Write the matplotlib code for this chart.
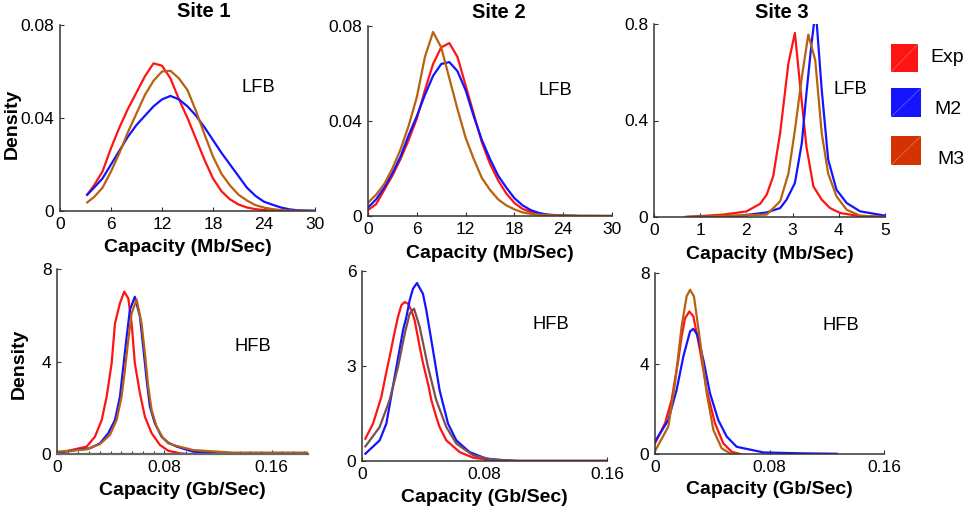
import matplotlib
matplotlib.use("Agg")
import matplotlib.pyplot as plt
from matplotlib.patches import Rectangle
from matplotlib.lines import Line2D
from matplotlib.ticker import MultipleLocator

plt.rcParams["font.family"] = ["Liberation Sans", "DejaVu Sans"]

# ---- Site 1, low-frequency band (Mb/Sec) ----
s1_lfb_x = [3.2, 4, 5, 6, 7, 8, 9, 10, 11, 12, 13, 14, 15, 16, 17, 18, 19, 20,
            21, 22, 23, 24, 25, 26, 27, 28, 30]
s1_lfb_exp = [0.007, 0.011, 0.017, 0.027, 0.036, 0.044, 0.051, 0.058, 0.0635, 0.0625,
              0.057, 0.048, 0.040, 0.031, 0.022, 0.014, 0.0085, 0.005, 0.0028, 0.0015,
              0.0008, 0.0004, 0.0002, 0.0001, 0, 0, 0]
s1_lfb_m2 = [0.007, 0.010, 0.014, 0.020, 0.026, 0.032, 0.037, 0.041, 0.045, 0.048,
             0.0495, 0.048, 0.045, 0.041, 0.036, 0.0305, 0.025, 0.020, 0.015, 0.010,
             0.0065, 0.004, 0.0027, 0.0015, 0.0007, 0.0003, 0.0001]
s1_lfb_m3 = [0.0037, 0.006, 0.010, 0.017, 0.025, 0.034, 0.042, 0.050, 0.056, 0.060,
             0.0603, 0.057, 0.052, 0.043, 0.033, 0.0234, 0.016, 0.011, 0.007, 0.0045,
             0.0025, 0.0015, 0.0008, 0.0004, 0.0002, 0.0001, 0]

# ---- Site 2, low-frequency band (Mb/Sec) ----
s2_lfb_x = [0, 1, 2, 3, 4, 5, 6, 7, 8, 9, 10, 11, 12, 13, 14, 15, 16, 17, 18, 19,
            20, 21, 22, 24, 26, 30]
s2_lfb_exp = [0.0025, 0.005, 0.011, 0.017, 0.024, 0.032, 0.041, 0.053, 0.064, 0.071,
              0.0728, 0.067, 0.055, 0.043, 0.031, 0.022, 0.015, 0.0095, 0.0055, 0.003,
              0.0017, 0.001, 0.0005, 0.0001, 0, 0]
s2_lfb_m2 = [0.0036, 0.007, 0.012, 0.018, 0.025, 0.034, 0.042, 0.051, 0.059, 0.064,
             0.0648, 0.061, 0.053, 0.042, 0.032, 0.024, 0.017, 0.012, 0.0075, 0.0045,
             0.0025, 0.0013, 0.0006, 0.0002, 0, 0]
s2_lfb_m3 = [0.0056, 0.009, 0.0135, 0.020, 0.028, 0.038, 0.050, 0.067, 0.0775, 0.071,
             0.058, 0.045, 0.033, 0.024, 0.016, 0.011, 0.007, 0.0045, 0.0028, 0.0015,
             0.0009, 0.0006, 0.0004, 0.0002, 0.0001, 0]

# ---- Site 3, low-frequency band (Mb/Sec) ----
s3_lfb_exp_x = [0.69, 1.5, 2.0, 2.3, 2.44, 2.58, 2.73, 2.91, 3.05, 3.16, 3.3, 3.45,
                3.63, 3.81, 4.03, 4.39, 5.0]
s3_lfb_exp = [0, 0.01, 0.023, 0.055, 0.093, 0.169, 0.348, 0.638, 0.763, 0.55, 0.29,
              0.127, 0.072, 0.037, 0.0166, 0.0055, 0]
s3_lfb_m2_x = [0.69, 1.86, 2.44, 2.73, 2.87, 3.05, 3.2, 3.3, 3.41, 3.5, 3.63, 3.77,
               3.95, 4.17, 4.46, 5.0]
s3_lfb_m2 = [0, 0.005, 0.019, 0.037, 0.072, 0.141, 0.307, 0.514, 0.72, 0.86, 0.528,
             0.238, 0.113, 0.058, 0.0235, 0.0055]
s3_lfb_m3_x = [0.69, 2.44, 2.73, 2.91, 3.05, 3.2, 3.34, 3.49, 3.63, 3.77, 3.95, 4.17,
               4.46, 5.0]
s3_lfb_m3 = [0, 0.01, 0.065, 0.18, 0.36, 0.58, 0.756, 0.65, 0.348, 0.18, 0.086, 0.03,
             0.0055, 0]

# ---- Site 1, high-frequency band (Gb/Sec) ----
s1_hfb_exp_x = [0, 0.0221, 0.0283, 0.0333, 0.037, 0.0407, 0.0432, 0.0469, 0.0501,
                0.0531, 0.0556, 0.058, 0.0618, 0.0655, 0.0705, 0.0767, 0.0829, 0.0916,
                0.097]
s1_hfb_exp = [0.03, 0.32, 0.75, 1.47, 2.48, 3.92, 5.65, 6.52, 7.02, 6.73, 5.65, 3.92,
              2.62, 1.61, 0.9, 0.39, 0.14, 0.03, 0]
s1_hfb_m2_x = [0, 0.0246, 0.032, 0.0382, 0.0432, 0.0469, 0.0494, 0.0519, 0.0543,
               0.058, 0.0618, 0.0642, 0.0668, 0.0692, 0.0729, 0.0779, 0.0829, 0.0891,
               0.1015, 0.12, 0.135]
s1_hfb_m2 = [0.06, 0.25, 0.46, 0.9, 1.47, 2.48, 3.78, 5.07, 6.23, 6.8, 5.94, 4.64,
             3.2, 2.05, 1.33, 0.75, 0.49, 0.32, 0.1, 0.03, 0]
s1_hfb_m3_x = [0, 0.0221, 0.032, 0.0394, 0.0444, 0.0481, 0.0506, 0.0531, 0.0556,
               0.0593, 0.063, 0.0655, 0.068, 0.0705, 0.0742, 0.0791, 0.0829, 0.0891,
               0.1015, 0.131, 0.187]
s1_hfb_m3 = [0.1, 0.2, 0.43, 0.82, 1.47, 2.48, 3.63, 4.93, 6.08, 6.69, 5.65, 4.35,
             2.91, 1.9, 1.18, 0.68, 0.46, 0.35, 0.17, 0.06, 0.06]

# ---- Site 2, high-frequency band (Gb/Sec) ----
s2_hfb_exp_x = [0.0022, 0.0072, 0.0126, 0.0159, 0.018, 0.0213, 0.0235, 0.0257, 0.0279,
                0.03, 0.0322, 0.0344, 0.0377, 0.0398, 0.0431, 0.0453, 0.0485, 0.0507,
                0.0551, 0.0638, 0.0725, 0.0855, 0.094, 0.16]
s2_hfb_exp = [0.705, 1.18, 2.02, 2.81, 3.28, 4.07, 4.55, 4.92, 5.02, 4.97, 4.76, 4.44,
              3.6, 3.1, 2.44, 1.92, 1.39, 1.07, 0.65, 0.28, 0.105, 0.02, 0, 0]
s2_hfb_m2_x = [0.0022, 0.0115, 0.0159, 0.0213, 0.0268, 0.029, 0.0311, 0.0333, 0.0359,
               0.0398, 0.042, 0.0464, 0.0507, 0.0562, 0.0616, 0.0703, 0.0812, 0.0986]
s2_hfb_m2 = [0.23, 0.65, 1.18, 2.65, 4.13, 4.55, 5.07, 5.44, 5.62, 5.28, 4.76, 3.49,
             2.23, 1.18, 0.65, 0.28, 0.074, 0]
s2_hfb_m3_x = [0.0022, 0.0115, 0.018, 0.0235, 0.0279, 0.0311, 0.034, 0.0377, 0.0431,
               0.0485, 0.0551, 0.0616, 0.0725, 0.0855, 0.103, 0.16]
s2_hfb_m3 = [0.46, 1.07, 1.92, 2.97, 4.02, 4.65, 4.81, 4.23, 2.97, 1.92, 1.07, 0.55,
             0.18, 0.04, 0.01, 0.01]

# ---- Site 3, high-frequency band (Gb/Sec) ----
s3_hfb_exp_x = [0, 0.007, 0.0116, 0.0163, 0.0186, 0.021, 0.024, 0.0268, 0.0291,
                0.0314, 0.0361, 0.0419, 0.0477, 0.0536, 0.0594]
s3_hfb_exp = [0.47, 1.36, 2.39, 4.16, 5.2, 6.0, 6.3, 6.08, 5.34, 4.6, 2.83, 1.36,
              0.47, 0.1, 0]
s3_hfb_m2_x = [0, 0.0093, 0.0151, 0.0198, 0.0245, 0.0268, 0.0296, 0.0338, 0.0384,
               0.0442, 0.0501, 0.057, 0.0757, 0.1013, 0.127]
s3_hfb_m2 = [0.55, 1.5, 2.83, 4.31, 5.42, 5.53, 5.27, 4.16, 2.69, 1.5, 0.77, 0.32,
             0.07, 0.03, 0.01]
s3_hfb_m3_x = [0, 0.0093, 0.014, 0.0186, 0.0221, 0.0245, 0.0272, 0.0314, 0.0361,
               0.0408, 0.0466, 0.0524, 0.057]
s3_hfb_m3 = [0.13, 1.21, 3.13, 5.64, 6.97, 7.26, 6.97, 5.05, 2.69, 1.06, 0.25, 0.03, 0]

site_titles = ["Site 1", "Site 2", "Site 3"]
series_names = ["Exp", "M2", "M3"]

lfb_xticks = [[0, 6, 12, 18, 24, 30], [0, 6, 12, 18, 24, 30], [0, 1, 2, 3, 4, 5]]
lfb_xlims = [(0, 30), (0, 30), (0, 5)]
lfb_yticks = [[0, 0.04, 0.08], [0, 0.04, 0.08], [0, 0.4, 0.8]]
lfb_yticklabels = [["0", "0.04", "0.08"], ["0", "0.04", "0.08"], ["0", "0.4", "0.8"]]

hfb_xticks = [0, 0.08, 0.16]
hfb_xticklabels = ["0", "0.08", "0.16"]
hfb_xlims = [(0, 0.187), (0, 0.16), (0, 0.16)]
hfb_yticks = [[0, 4, 8], [0, 3, 6], [0, 4, 8]]

RED = "#ff1414"
BLUE = "#1414ff"
BROWN = "#b8620f"
BROWN_GREY = "#7a5052"
M3_PATCH = "#d43200"
SPINE = "#333333"

W, H = 974, 512


def px_axes(left, top, right, bottom):
    # axes rectangle given in pixel coordinates measured from the top-left corner
    return [left / W, 1 - bottom / H, (right - left) / W, (bottom - top) / H]


fig = plt.figure(figsize=(W / 100, H / 100), dpi=100)

top_boxes = [px_axes(60, 25, 315, 211), px_axes(368, 26, 612, 216), px_axes(654, 24, 885, 217)]
bottom_boxes = [px_axes(57, 269, 308, 454), px_axes(362, 271, 607, 461), px_axes(655, 273, 884, 454)]

top_axes = [fig.add_axes(b) for b in top_boxes]
bottom_axes = [fig.add_axes(b) for b in bottom_boxes]

lfb_curves = [
    [(s1_lfb_x, s1_lfb_exp, RED), (s1_lfb_x, s1_lfb_m2, BLUE), (s1_lfb_x, s1_lfb_m3, BROWN)],
    [(s2_lfb_x, s2_lfb_exp, RED), (s2_lfb_x, s2_lfb_m2, BLUE), (s2_lfb_x, s2_lfb_m3, BROWN)],
    [(s3_lfb_exp_x, s3_lfb_exp, RED), (s3_lfb_m2_x, s3_lfb_m2, BLUE), (s3_lfb_m3_x, s3_lfb_m3, BROWN)],
]
hfb_curves = [
    [(s1_hfb_exp_x, s1_hfb_exp, RED), (s1_hfb_m2_x, s1_hfb_m2, BLUE), (s1_hfb_m3_x, s1_hfb_m3, BROWN)],
    [(s2_hfb_exp_x, s2_hfb_exp, RED), (s2_hfb_m2_x, s2_hfb_m2, BLUE), (s2_hfb_m3_x, s2_hfb_m3, BROWN_GREY)],
    [(s3_hfb_exp_x, s3_hfb_exp, RED), (s3_hfb_m2_x, s3_hfb_m2, BLUE), (s3_hfb_m3_x, s3_hfb_m3, BROWN)],
]

# band label placement (data coordinates) and title offsets (axes fraction)
lfb_label_pos = [(23.3, 0.0533), (23.0, 0.053), (4.26, 0.53)]
hfb_label_pos = [(0.146, 4.63), (0.1234, 4.3), (0.130, 5.66)]
title_pos = [(0.565, 1.07), (0.537, 1.073), (0.554, 1.062)]

TICK_FS = 12.5
LABEL_FS = 14
BAND_FS = 13.2


def style_axes(ax):
    for side in ("top", "right"):
        ax.spines[side].set_visible(False)
    for side in ("left", "bottom"):
        ax.spines[side].set_color(SPINE)
        ax.spines[side].set_linewidth(1.1)
    ax.tick_params(direction="in", length=3, width=0.8, color=SPINE,
                   labelsize=TICK_FS, pad=4)


for i, ax in enumerate(top_axes):
    for x, y, c in lfb_curves[i]:
        ax.plot(x, y, color=c, lw=1.6)
    ax.set_xlim(*lfb_xlims[i])
    ax.set_ylim(0, lfb_yticks[i][-1])
    ax.set_xticks(lfb_xticks[i])
    ax.set_xticklabels([str(t) for t in lfb_xticks[i]])
    ax.set_yticks(lfb_yticks[i])
    ax.set_yticklabels(lfb_yticklabels[i])
    style_axes(ax)
    ax.set_xlabel("Capacity (Mb/Sec)", fontsize=LABEL_FS, fontweight="bold")
    ax.xaxis.set_label_coords(0.5, -0.15)
    ax.text(*lfb_label_pos[i], "LFB", fontsize=BAND_FS, ha="center", va="center")
    ax.text(*title_pos[i], site_titles[i], transform=ax.transAxes, fontsize=14.5,
            fontweight="bold", ha="center", va="center")

for i, ax in enumerate(bottom_axes):
    for x, y, c in hfb_curves[i]:
        ax.plot(x, y, color=c, lw=1.6)
    ax.set_xlim(*hfb_xlims[i])
    ax.set_ylim(0, hfb_yticks[i][-1])
    ax.set_xticks(hfb_xticks)
    ax.set_xticklabels(hfb_xticklabels)
    ax.set_yticks(hfb_yticks[i])
    ax.set_yticklabels([str(t) for t in hfb_yticks[i]])
    style_axes(ax)
    ax.set_xlabel("Capacity (Gb/Sec)", fontsize=LABEL_FS, fontweight="bold")
    ax.xaxis.set_label_coords(0.5, -0.15)
    ax.text(*hfb_label_pos[i], "HFB", fontsize=BAND_FS, ha="center", va="center")

# the first high-band panel carries fine minor ticks along its grey baseline
bottom_axes[0].spines["bottom"].set_color("#666666")
bottom_axes[0].spines["bottom"].set_linewidth(1.6)
bottom_axes[0].xaxis.set_minor_locator(MultipleLocator(0.008))
bottom_axes[0].tick_params(axis="x", which="minor", direction="in", length=2.5,
                           width=0.8, color=SPINE)

top_axes[0].set_ylabel("Density", fontsize=LABEL_FS, fontweight="bold")
top_axes[0].yaxis.set_label_coords(-0.155, 0.47)
bottom_axes[0].set_ylabel("Density", fontsize=LABEL_FS, fontweight="bold")
bottom_axes[0].yaxis.set_label_coords(-0.116, 0.49)

# hand-placed legend: coloured squares with a faint diagonal, labels staggered
legend_rows = [
    (RED, (891, 44, 918, 72), (930, 57)),
    (BLUE, (891, 88, 921, 117), (934, 110)),
    (M3_PATCH, (891, 136, 921, 165), (937, 159)),
]
for (color, (l, t, r, b), (tx, ty)), name in zip(legend_rows, series_names):
    fig.add_artist(Rectangle((l / W, 1 - b / H), (r - l) / W, (b - t) / H,
                             transform=fig.transFigure, facecolor=color,
                             edgecolor="none"))
    fig.add_artist(Line2D([l / W, r / W], [1 - b / H, 1 - t / H],
                          transform=fig.transFigure, color="white", lw=0.5,
                          alpha=0.35))
    fig.text(tx / W, 1 - ty / H, name, fontsize=14, ha="left", va="center")

fig.savefig("out.png", dpi=100)
